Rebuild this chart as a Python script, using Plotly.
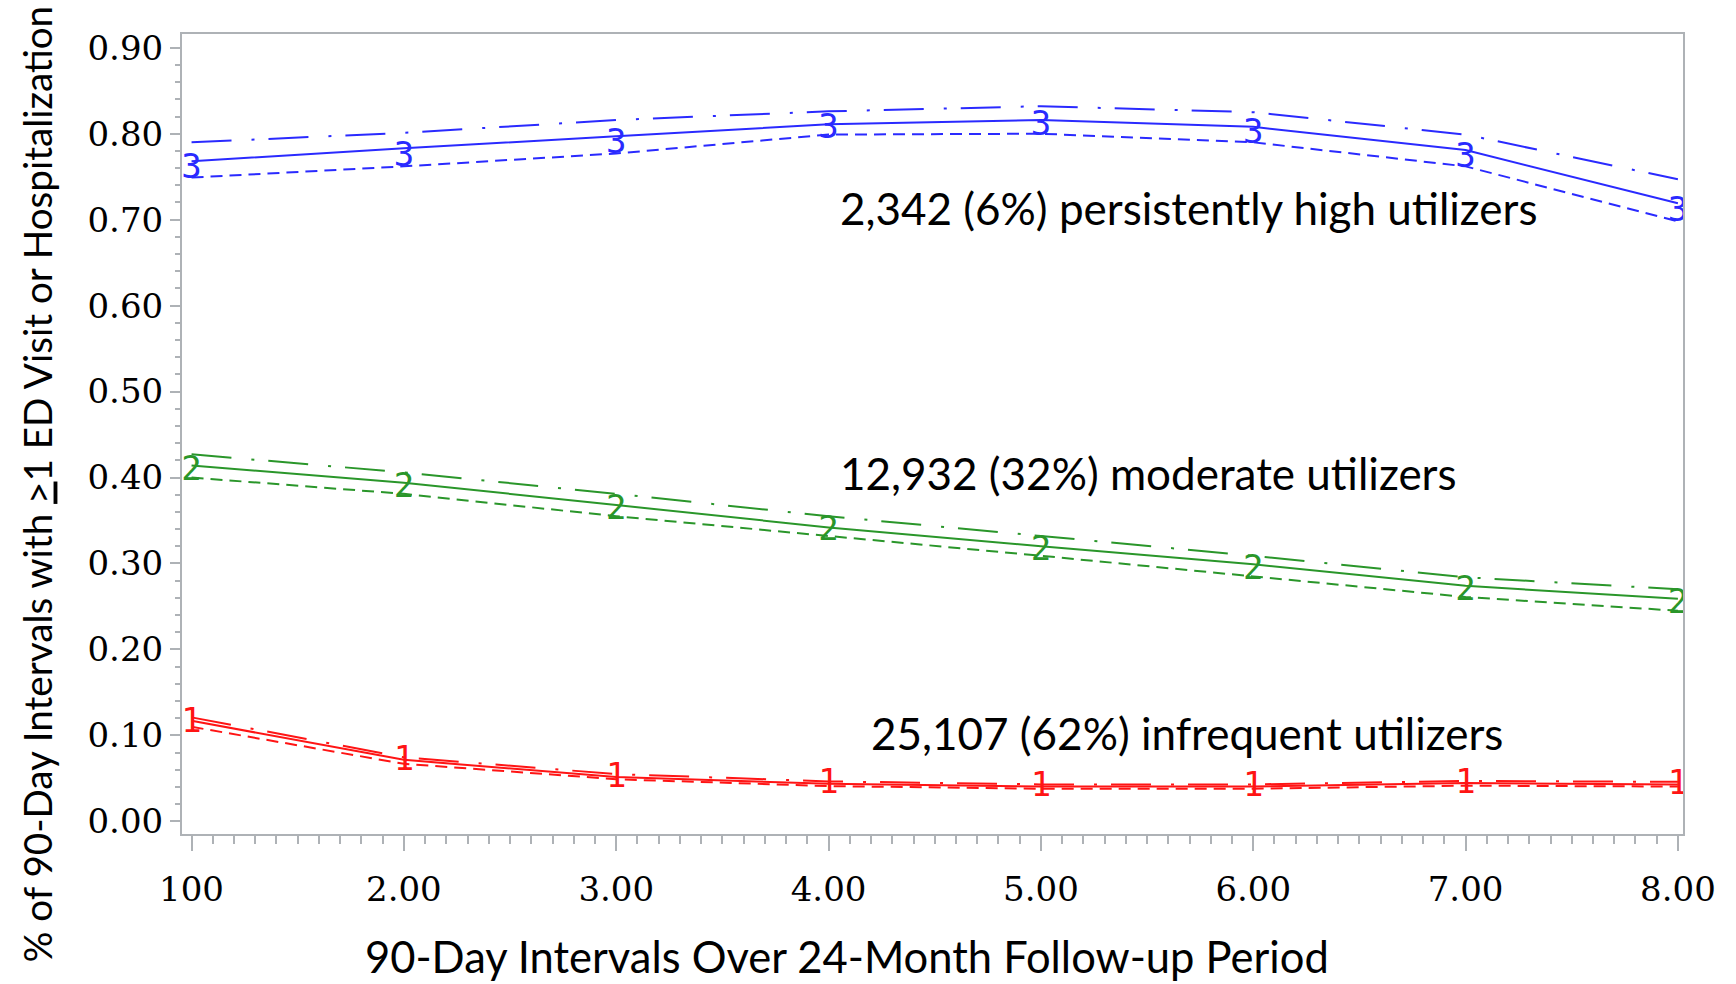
import plotly.graph_objects as go

# ---------------- data ----------------
intervals = [1, 2, 3, 4, 5, 6, 7, 8]
x_tick_text = ["100", "2.00", "3.00", "4.00", "5.00", "6.00", "7.00", "8.00"]
y_tick_vals = [0.0, 0.1, 0.2, 0.3, 0.4, 0.5, 0.6, 0.7, 0.8, 0.9]

# group 3: persistently high utilizers
high_est = [0.768, 0.783, 0.797, 0.811, 0.816, 0.808, 0.781, 0.719]
high_low = [0.749, 0.762, 0.777, 0.799, 0.800, 0.790, 0.762, 0.698]
high_up = [0.790, 0.801, 0.816, 0.826, 0.832, 0.825, 0.799, 0.747]

# group 2: moderate utilizers
mod_est = [0.414, 0.394, 0.368, 0.342, 0.320, 0.299, 0.274, 0.259]
mod_low = [0.400, 0.381, 0.355, 0.332, 0.309, 0.285, 0.261, 0.245]
mod_up = [0.427, 0.406, 0.381, 0.355, 0.332, 0.309, 0.284, 0.270]

# group 1: infrequent utilizers
inf_est = [0.117, 0.0716, 0.0515, 0.0437, 0.0405, 0.0405, 0.0445, 0.0430]
inf_low = [0.110, 0.0670, 0.0490, 0.0410, 0.0380, 0.0380, 0.0415, 0.0405]
inf_up = [0.121, 0.0745, 0.0550, 0.0465, 0.0430, 0.0430, 0.0470, 0.0460]

groups = [
    ("3", "#2a2aff", high_est, high_low, high_up,
     "2,342 (6%) persistently high utilizers", 4.044, 0.714),
    ("2", "#2a962a", mod_est, mod_low, mod_up,
     "12,932 (32%) moderate utilizers", 4.044, 0.405),
    ("1", "#ff1414", inf_est, inf_low, inf_up,
     "25,107 (62%) infrequent utilizers", 4.19, 0.103),
]

y_title = "% of 90-Day Intervals with <u>&gt;</u>1 ED Visit or Hospitalization"
x_title = "90-Day Intervals Over 24-Month Follow-up Period"

# ---------------- figure ----------------
fig = go.Figure()
for label, color, est, low, up, text, tx, ty in groups:
    fig.add_trace(go.Scatter(x=intervals, y=up, mode="lines",
                             line=dict(color=color, width=2, dash="40px,20px,3px,14px"),
                             hoverinfo="skip"))
    fig.add_trace(go.Scatter(x=intervals, y=low, mode="lines",
                             line=dict(color=color, width=2, dash="12px,7px"),
                             hoverinfo="skip"))
    fig.add_trace(go.Scatter(x=intervals, y=est, mode="lines",
                             line=dict(color=color, width=2), hoverinfo="skip"))
    # group-number plotting symbols, centred between estimate and lower bound
    mid = [(e + l) / 2 for e, l in zip(est, low)]
    fig.add_trace(go.Scatter(x=intervals, y=mid, mode="text",
                             text=[label] * len(intervals),
                             textposition="middle center",
                             textfont=dict(family="DejaVu Sans Mono", size=34, color=color),
                             hoverinfo="skip"))
    fig.add_annotation(x=tx, y=ty, xref="x", yref="y", text=text, showarrow=False,
                       xanchor="left", yanchor="middle",
                       font=dict(family="Lato", size=44, color="black"))

axis_gray = "#aeb2b6"
fig.update_xaxes(range=[0.955, 8.024], tickmode="array", tickvals=intervals,
                 ticktext=x_tick_text, ticks="outside", ticklen=15, tickwidth=2,
                 tickcolor=axis_gray, showline=True, linecolor=axis_gray, linewidth=2,
                 mirror=True, showgrid=False, zeroline=False, ticklabelstandoff=9,
                 tickfont=dict(family="DejaVu Serif", size=34, color="black"),
                 minor=dict(dtick=0.1, tick0=1, ticks="outside", ticklen=8,
                            tickwidth=1.5, tickcolor=axis_gray, showgrid=False))
fig.update_yaxes(range=[-0.0147, 0.916], tickmode="array", tickvals=y_tick_vals,
                 tickformat=".2f", ticks="outside", ticklen=10, tickwidth=2,
                 tickcolor=axis_gray, showline=True, linecolor=axis_gray, linewidth=2,
                 mirror=True, showgrid=False, zeroline=False,
                 tickfont=dict(family="DejaVu Serif", size=34, color="black"),
                 minor=dict(dtick=0.02, tick0=0, ticks="outside", ticklen=5,
                            tickwidth=1.5, tickcolor=axis_gray, showgrid=False))

fig.add_annotation(x=-0.0969, y=0.4375, xref="paper", yref="paper", text=y_title,
                   showarrow=False, textangle=-90, xanchor="center", yanchor="middle",
                   font=dict(family="Lato", size=38.6, color="black"))
fig.add_annotation(x=0.443, y=-0.153, xref="paper", yref="paper", text=x_title,
                   showarrow=False, xanchor="center", yanchor="middle",
                   font=dict(family="Lato", size=43.5, color="black"))

fig.update_layout(width=1736, height=984, showlegend=False,
                  margin=dict(l=182, r=53, t=34, b=150),
                  paper_bgcolor="white", plot_bgcolor="white")

fig.write_html("out.html")
